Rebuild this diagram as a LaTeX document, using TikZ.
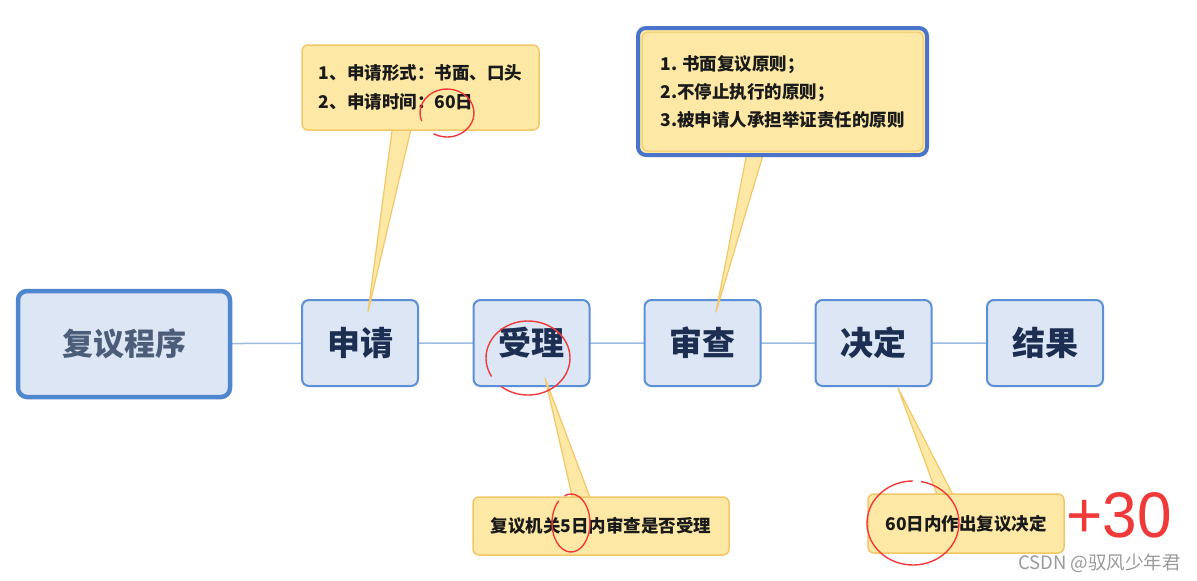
\documentclass[tikz,border=0pt]{standalone}
\usepackage{fontspec}
\setmainfont{Noto Sans CJK SC}
\newfontfamily\latinsans{Liberation Sans}
\usetikzlibrary{calc}
\definecolor{nodefill}{HTML}{DCE6F4}
\definecolor{nodeline}{HTML}{5B8FD6}
\definecolor{mainline}{HTML}{4F86D0}
\definecolor{linkline}{HTML}{9BBBE3}
\definecolor{nodetext}{HTML}{1C2F52}
\definecolor{maintext}{HTML}{4B5D78}
\definecolor{callfill}{HTML}{FDE9A5}
\definecolor{callline}{HTML}{F2C767}
\definecolor{calltext}{HTML}{1A1A1A}
\definecolor{bluecall}{HTML}{4A74C9}
\definecolor{penred}{HTML}{F03A3A}
\definecolor{wmark}{HTML}{9A9A9A}
\tikzset{
  stepbox/.style={draw=nodeline, line width=2pt, fill=nodefill, rounded corners=7pt,
    minimum width=116pt, minimum height=86pt, text=nodetext, font=\fontsize{33}{36}\selectfont\bfseries},
  mainbox/.style={draw=mainline, line width=4.5pt, fill=nodefill, rounded corners=9pt,
    minimum width=212pt, minimum height=106pt, text=maintext, font=\fontsize{31}{34}\selectfont\bfseries},
  link/.style={draw=linkline, line width=1.5pt},
  callbox/.style={draw=callline, line width=1.5pt, fill=callfill, rounded corners=6pt,
    text=calltext, font=\fontsize{17.5}{29}\selectfont\bfseries, align=left},
  bluebox/.style={draw=bluecall, line width=4pt, fill=callfill, rounded corners=8pt,
    minimum width=289pt, minimum height=127pt},
  wedge/.style={fill=callfill, draw=callline, line width=1.2pt, line join=round},
  pen/.style={draw=penred, line width=1.4pt}
}
\begin{document}
\begin{tikzpicture}[x=1pt,y=-1pt]
\useasboundingbox[fill=white] (0,0) rectangle (1197,581);

% connectors first (behind nodes), via named coordinates
\coordinate (cm) at (124,344);
\coordinate (c1) at (360,343);
\coordinate (c2) at (531.5,343);
\coordinate (c3) at (702.5,343);
\coordinate (c4) at (873.5,343);
\coordinate (c5) at (1045,343);
\path[link] (cm) -- (c1) -- (c2) -- (c3) -- (c4) -- (c5);

% main nodes
\node[mainbox] (main) at (cm) {复议程序};
\node[stepbox] (s1) at (c1) {申请};
\node[stepbox] (s2) at (c2) {受理};
\node[stepbox] (s3) at (c3) {审查};
\node[stepbox] (s4) at (c4) {决定};
\node[stepbox] (s5) at (c5) {结果};

% pointer apex coordinates
\coordinate (tA) at (368,312);
\coordinate (tB) at (716,312);
\coordinate (tC) at (545,378);
\coordinate (tD) at (898,388);

% callout anchor positions
\coordinate (pA) at (420.5,87.5);
\coordinate (pB) at (782.5,91.5);
\coordinate (pC) at (601,526);
\coordinate (pD) at (966,523.5);

% wedges
\path[wedge] ($(pA)+(-28,39.5)$) -- (tA) -- ($(pA)+(-9,39.5)$);
\path[wedge] ($(pB)+(-35,58.5)$) -- (tB) -- ($(pB)+(-18,58.5)$);
\path[wedge] ($(pC)+(-28,-26)$) -- (tC) -- ($(pC)+(-10,-26)$);
\path[wedge] ($(pD)+(-28,-26.5)$) -- (tD) -- ($(pD)+(-12,-26.5)$);

% callouts over wedges
\node[callbox, minimum width=237pt, minimum height=85pt] (cA) at (pA)
  {1、申请形式：书面、口头\\2、申请时间：60日};
\node[bluebox] (cB) at (pB) {};
\node[callbox, line width=1pt, minimum width=281pt, minimum height=119pt,
  font=\fontsize{17.5}{28}\selectfont\bfseries] (cBt) at (pB)
  {1. 书面复议原则；\\2.不停止执行的原则；\\3.被申请人承担举证责任的原则};
\node[callbox, minimum width=256pt, minimum height=58pt] (cC) at (pC)
  {复议机关5日内审查是否受理};
\node[callbox, minimum width=196pt, minimum height=59pt] (cD) at (pD)
  {60日内作出复议决定};

% red pen marks
\draw[pen] (447,113) ++(160:27 and 24) arc[start angle=160, end angle=480, x radius=27, y radius=24];
\draw[pen] (528,358) ++(150:42 and 37) arc[start angle=150, end angle=490, x radius=42, y radius=37];
\draw[pen] (571,523) ++(250:19 and 29) arc[start angle=250, end angle=590, x radius=19, y radius=29];
\draw[pen] (913,523) ++(280:46 and 42) arc[start angle=280, end angle=630, x radius=46, y radius=42];
\node[text=penred, font=\latinsans\fontsize{46}{46}\selectfont, anchor=west,
  xscale=1.35, yscale=1.4, inner sep=0pt] (plus) at (1066,515) {+30};

% watermark
\node[text=wmark, font=\fontsize{18.5}{20}\selectfont, anchor=east, inner sep=0pt] (wm) at (1181,563)
  {CSDN @驭风少年君};
\end{tikzpicture}
\end{document}
